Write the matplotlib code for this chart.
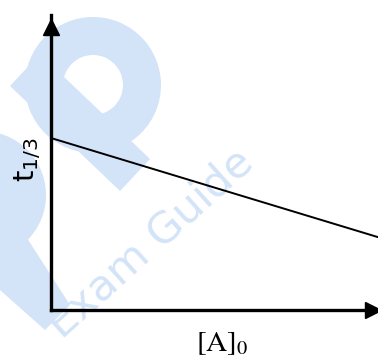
import matplotlib.pyplot as plt
from matplotlib.patches import Circle, Wedge, Polygon

# half-life vs initial concentration (schematic, decreasing line)
conc = [0.0, 10.0]
t_third = [5.83, 2.47]
x_label = "$[\\mathrm{A}]_0$"
y_label = "$\\mathrm{t}_{1/3}$"

W, H = 378, 360
fig = plt.figure(figsize=(W / 100, H / 100), dpi=100)

# watermark layer in pixel coordinates
bg = fig.add_axes([0, 0, 1, 1], zorder=0)
bg.set_xlim(0, W)
bg.set_ylim(H, 0)
bg.axis("off")
wm = "#d3e3f8"
bg.add_patch(Wedge((93, 85), 68, 0, 360, width=38, color=wm, lw=0))
bg.add_patch(Polygon([[40, 54], [10, 86], [120, 191], [150, 159]],
                     closed=True, color=wm, lw=0))
bg.add_patch(Circle((-18, 195), 64, color=wm, lw=0))
bg.add_patch(Polygon([[0, 240], [25, 235], [70, 305], [45, 330], [0, 290]],
                     closed=True, color=wm, lw=0))
bg.text(150, 244, "Exam Guide", rotation=42, fontsize=31, color=wm,
        ha="center", va="center", family="DejaVu Sans")

# plot axes
l, r, t, b = 51, 378, 15, 310
ax = fig.add_axes([l / W, 1 - b / H, (r - l) / W, (b - t) / H], zorder=1)
ax.patch.set_alpha(0)
ax.set_xlim(0, 10)
ax.set_ylim(0, 10)
ax.plot(conc, t_third, color="black", lw=1.4, clip_on=False)
for side in ["top", "right"]:
    ax.spines[side].set_visible(False)
for side in ["left", "bottom"]:
    ax.spines[side].set_linewidth(2.4)
ax.set_xticks([])
ax.set_yticks([])
ax.plot(0, 9.6, marker="^", color="black", ms=12, clip_on=False)
ax.plot(9.85, 0, marker=">", color="black", ms=12, clip_on=False)

fig.text(28 / W, 1 - 160 / H, y_label, rotation=90, fontsize=21,
         ha="center", va="center", math_fontfamily="dejavusans")
fig.text(222 / W, 1 - 343 / H, x_label, fontsize=21,
         ha="center", va="center", math_fontfamily="stix")

fig.savefig("out.png", dpi=100)
